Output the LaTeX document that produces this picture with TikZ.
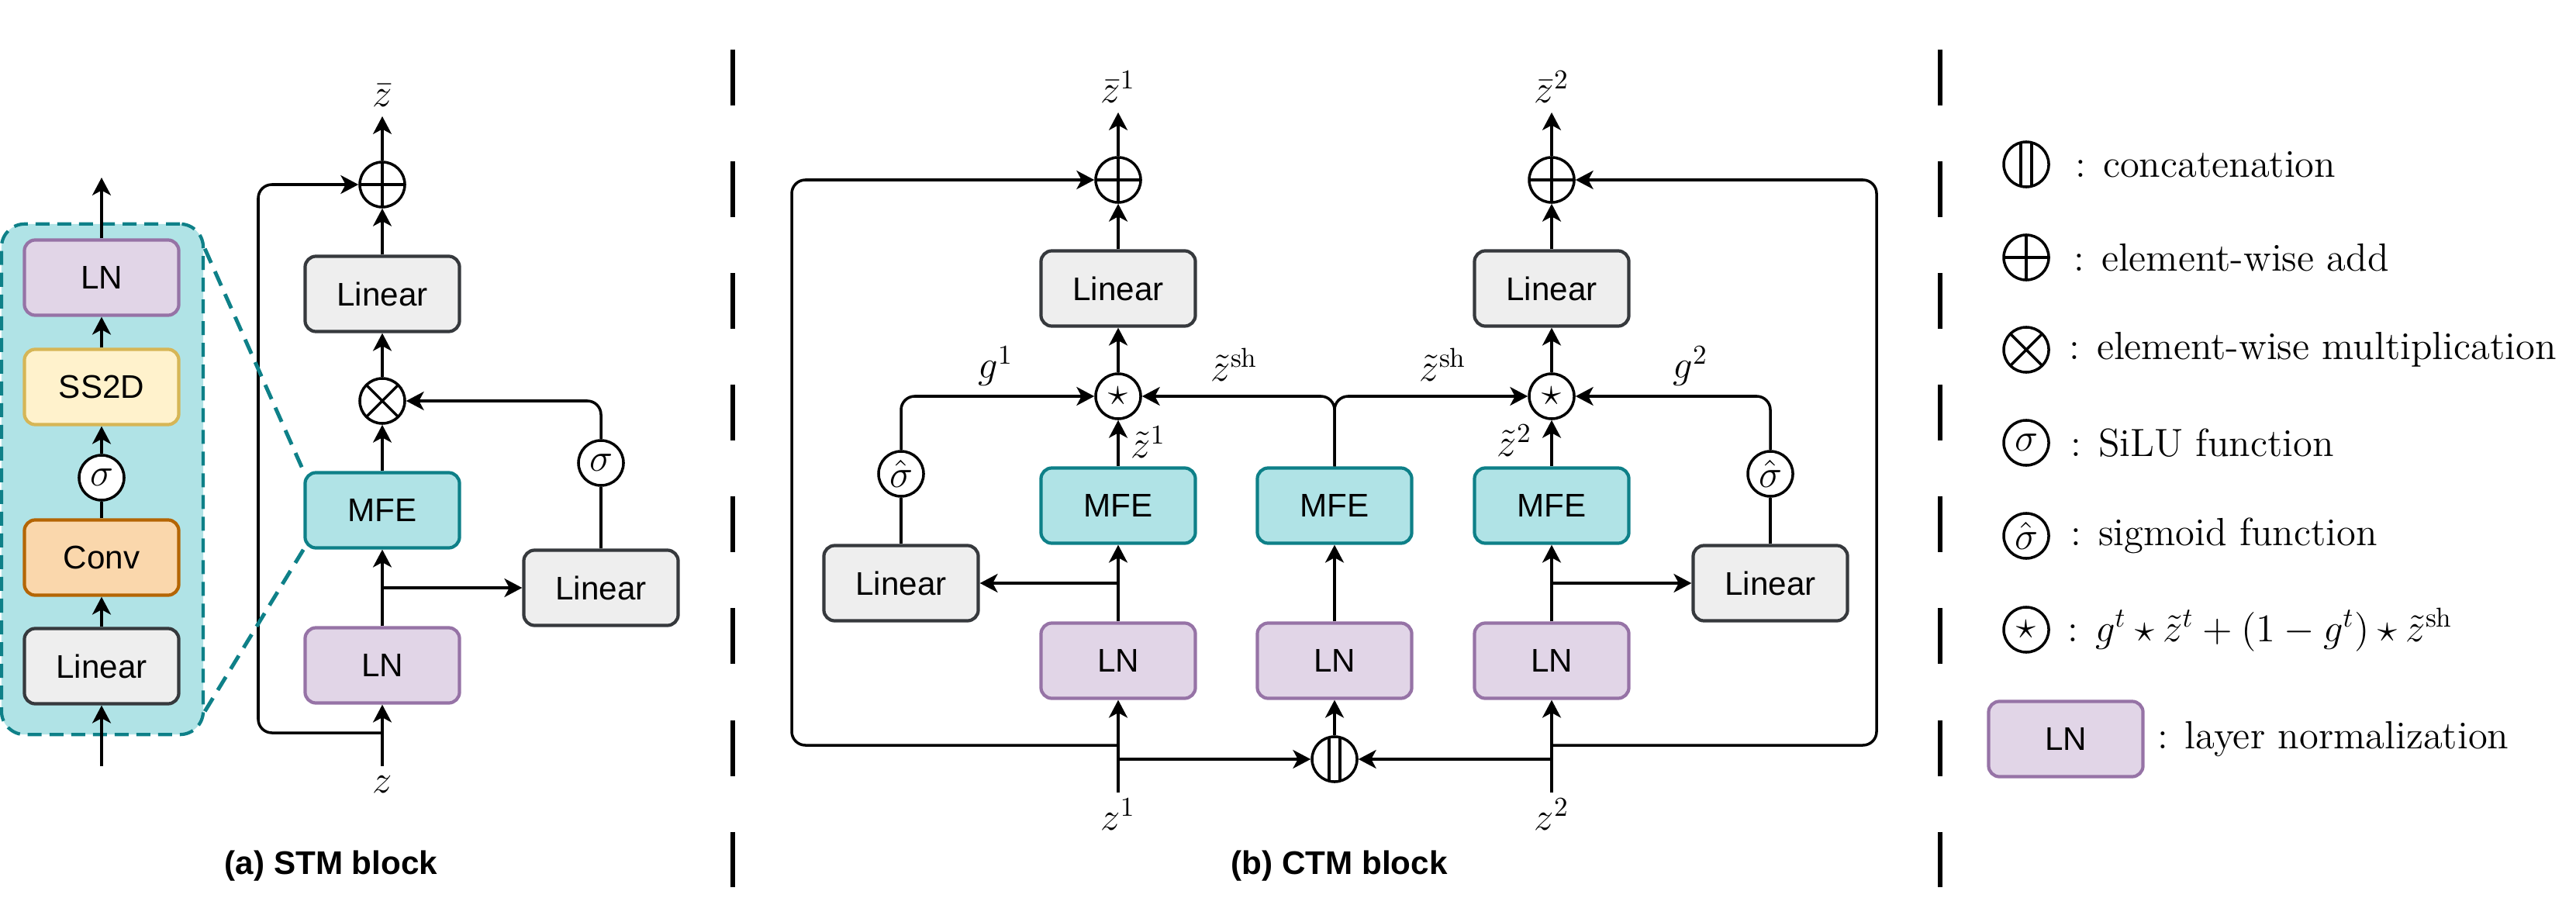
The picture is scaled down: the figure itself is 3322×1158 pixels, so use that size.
\documentclass[tikz,border=0pt]{standalone}
\usepackage{fontspec}
\usepackage{amsmath}
\usetikzlibrary{positioning}
\usetikzlibrary{arrows.meta}

\newfontfamily\blockfont{Liberation Sans}

\definecolor{linfill}{HTML}{EEEEEE}
\definecolor{lindraw}{HTML}{36393D}
\definecolor{mfefill}{HTML}{B0E3E6}
\definecolor{mfedraw}{HTML}{0E8088}
\definecolor{lnfill}{HTML}{E1D5E7}
\definecolor{lndraw}{HTML}{9673A6}
\definecolor{ssfill}{HTML}{FFF2CC}
\definecolor{ssdraw}{HTML}{D6B656}
\definecolor{convfill}{HTML}{FAD7AC}
\definecolor{convdraw}{HTML}{B46504}

\begin{document}
\begin{tikzpicture}[
    x=0.01cm, y=-0.01cm,
    blk/.style={rectangle, rounded corners=4pt, line width=1.2pt,
        minimum width=1.99cm, minimum height=0.97cm, inner sep=0pt,
        font=\blockfont\fontsize{12}{14}\selectfont},
    linbox/.style={blk, draw=lindraw, fill=linfill},
    mfebox/.style={blk, draw=mfedraw, fill=mfefill},
    lnbox/.style={blk, draw=lndraw, fill=lnfill},
    ssbox/.style={blk, draw=ssdraw, fill=ssfill},
    convbox/.style={blk, draw=convdraw, fill=convfill},
    opnode/.style={circle, draw, fill=white, line width=1pt,
        minimum size=0.58cm, inner sep=0pt,
        font=\fontsize{14.4}{17}\selectfont},
    oplus/.style={opnode, path picture={
        \draw[line width=1pt]
            (path picture bounding box.north) -- (path picture bounding box.south)
            (path picture bounding box.west) -- (path picture bounding box.east);}},
    otimes/.style={opnode, path picture={
        \draw[line width=1pt]
            (path picture bounding box.north west) -- (path picture bounding box.south east)
            (path picture bounding box.north east) -- (path picture bounding box.south west);}},
    ocat/.style={opnode, path picture={
        \draw[line width=1pt]
            ([xshift=-0.07cm]path picture bounding box.north) -- ([xshift=-0.07cm]path picture bounding box.south)
            ([xshift=0.07cm]path picture bounding box.north) -- ([xshift=0.07cm]path picture bounding box.south);}},
    flow/.style={line width=1pt, -{Stealth[length=6.5pt, width=6.8pt, inset=1.8pt]}},
    wire/.style={line width=1pt},
    mathlbl/.style={font=\fontsize{14.4}{17}\selectfont},
    legtext/.style={font=\fontsize{14.4}{17}\selectfont},
    caption/.style={font=\blockfont\bfseries\fontsize{12}{14}\selectfont},
    sepline/.style={line width=1.6pt, dash pattern=on 0.72cm off 0.72cm},
    zoombox/.style={rectangle, draw=mfedraw, fill=mfefill, line width=1.2pt,
        dash pattern=on 0.18cm off 0.1cm, rounded corners=0.3cm,
        minimum width=2.6cm, minimum height=6.58cm},
    zoomlink/.style={draw=mfedraw, line width=1.4pt, dash pattern=on 0.2cm off 0.12cm}
]

    \useasboundingbox (0,0) rectangle (3322,1158);

    % Separators
    \draw[sepline] (945,64) -- (945,1144);
    \draw[sepline] (2502,64) -- (2502,1144);

    % STM inner view
    \node[zoombox] (zoom) at (132,618) {};
    \node[linbox] (sLin) at (131,859) {Linear};
    \node[convbox] (sConv) at (131,719) {Conv};
    \node[opnode] (sSilu) at (131,616) {$\sigma$};
    \node[ssbox] (sSS) at (131,499) {SS2D};
    \node[lnbox] (sLN) at (131,358) {LN};
    \coordinate (sIn) at (131,988);
    \coordinate (sOut) at (131,229);

    \draw[flow] (sIn) -- (sLin);
    \draw[flow] (sLin) -- (sConv);
    \draw[wire] (sConv) -- (sSilu);
    \draw[flow] (sSilu) -- (sSS);
    \draw[flow] (sSS) -- (sLN);
    \draw[flow] (sLN) -- (sOut);

    % STM block
    \node[oplus] (sum) at (493,238) {};
    \node[linbox] (lin) at (493,379) {Linear};
    \node[otimes] (mul) at (493,517) {};
    \node[mfebox] (mfe) at (493,658) {MFE};
    \node[lnbox] (ln) at (493,858) {LN};
    \node[linbox] (gLin) at (775,758) {Linear};
    \node[opnode] (silu) at (775,597) {$\sigma$};
    \coordinate (zin) at (493,988);
    \coordinate (skip) at (493,945);
    \coordinate (zout) at (493,150);

    \draw[flow] (zin) -- (ln);
    \draw[flow] (ln) -- (mfe);
    \draw[flow] (mfe) -- (mul);
    \draw[flow] (mul) -- (lin);
    \draw[flow] (lin) -- (sum);
    \draw[flow] (sum) -- (zout);
    \draw[flow] (ln.north |- gLin) -- (gLin);
    \draw[wire] (gLin) -- (silu);
    \draw[flow, rounded corners=5pt] (silu) |- (mul);
    \draw[flow, rounded corners=5pt] (skip) -- ++(-160,0) |- (sum);

    \node[mathlbl, above] (zbar) at (zout) {$\bar{z}$};
    \node[mathlbl, below] (zlbl) at (zin) {$z$};

    % zoom links
    \draw[zoomlink] ([yshift=-0.34cm]zoom.north east) -- (mfe.north west);
    \draw[zoomlink] ([yshift=0.32cm]zoom.south east) -- (mfe.south west);

    % CTM block, first branch
    \node[oplus] (sumA) at (1442,232) {};
    \node[linbox] (linA) at (1442,372) {Linear};
    \node[opnode] (starA) at (1442,511) {$\star$};
    \node[mfebox] (mfeA) at (1442,652) {MFE};
    \node[lnbox] (lnA) at (1442,852) {LN};
    \node[linbox] (gLinA) at (1162,752) {Linear};
    \node[opnode] (sigA) at (1162,611) {$\hat{\sigma}$};
    \coordinate (zinA) at (1442,1022);
    \coordinate (skipA) at (1442,961);
    \coordinate (catA) at (1442,979);
    \coordinate (outA) at (1442,145);

    % CTM block, second branch
    \node[oplus] (sumB) at (2001,232) {};
    \node[linbox] (linB) at (2001,372) {Linear};
    \node[opnode] (starB) at (2001,511) {$\star$};
    \node[mfebox] (mfeB) at (2001,652) {MFE};
    \node[lnbox] (lnB) at (2001,852) {LN};
    \node[linbox] (gLinB) at (2283,752) {Linear};
    \node[opnode] (sigB) at (2283,611) {$\hat{\sigma}$};
    \coordinate (zinB) at (2001,1022);
    \coordinate (skipB) at (2001,961);
    \coordinate (catB) at (2001,979);
    \coordinate (outB) at (2001,145);

    % CTM block, shared branch
    \node[ocat] (cat) at (1721,979) {};
    \node[lnbox] (lnM) at (1721,852) {LN};
    \node[mfebox] (mfeM) at (1721,652) {MFE};

    \draw[flow] (zinA) -- (lnA);
    \draw[flow] (lnA) -- (mfeA);
    \draw[flow] (mfeA) -- (starA);
    \draw[flow] (starA) -- (linA);
    \draw[flow] (linA) -- (sumA);
    \draw[flow] (sumA) -- (outA);
    \draw[flow] (lnA.north |- gLinA) -- (gLinA);
    \draw[wire] (gLinA) -- (sigA);
    \draw[flow, rounded corners=5pt] (sigA) |- (starA);
    \draw[flow, rounded corners=5pt] (skipA) -- ++(-421,0) |- (sumA);

    \draw[flow] (zinB) -- (lnB);
    \draw[flow] (lnB) -- (mfeB);
    \draw[flow] (mfeB) -- (starB);
    \draw[flow] (starB) -- (linB);
    \draw[flow] (linB) -- (sumB);
    \draw[flow] (sumB) -- (outB);
    \draw[flow] (lnB.north |- gLinB) -- (gLinB);
    \draw[wire] (gLinB) -- (sigB);
    \draw[flow, rounded corners=5pt] (sigB) |- (starB);
    \draw[flow, rounded corners=5pt] (skipB) -- ++(419,0) |- (sumB);

    \draw[flow] (catA) -- (cat);
    \draw[flow] (catB) -- (cat);
    \draw[flow] (cat) -- (lnM);
    \draw[flow] (lnM) -- (mfeM);
    \draw[flow, rounded corners=5pt] (mfeM) |- (starA);
    \draw[flow, rounded corners=5pt] (mfeM) |- (starB);

    \node[mathlbl, above] (zbarA) at (outA) {$\bar{z}^1$};
    \node[mathlbl, above] (zbarB) at (outB) {$\bar{z}^2$};
    \node[mathlbl, below, inner sep=2pt] (zA) at (zinA) {$z^1$};
    \node[mathlbl, below, inner sep=2pt] (zB) at (zinB) {$z^2$};
    \node[mathlbl] (gA) at (1284,472) {$g^1$};
    \node[mathlbl] (gB) at (2180,472) {$g^2$};
    \node[mathlbl] (shA) at (1592,470) {$\tilde{z}^{\mathrm{sh}}$};
    \node[mathlbl] (shB) at (1861,470) {$\tilde{z}^{\mathrm{sh}}$};
    \node[mathlbl] (ztA) at (1481,570) {$\tilde{z}^1$};
    \node[mathlbl] (ztB) at (1953,568) {$\tilde{z}^2$};

    % Legend
    \node[ocat] (lgCat) at (2613,212) {};
    \node[oplus] (lgAdd) at (2613,332) {};
    \node[otimes] (lgMul) at (2613,451) {};
    \node[opnode] (lgSilu) at (2613,571) {$\sigma$};
    \node[opnode] (lgSig) at (2613,691) {$\hat{\sigma}$};
    \node[opnode] (lgStar) at (2613,812) {$\star$};
    \node[lnbox] (lgLN) at (2664,953) {LN};

    \node[legtext, right=0.2cm of lgCat] (tCat) {: concatenation};
    \node[legtext, right=0.18cm of lgAdd] (tAdd) {: element-wise add};
    \node[legtext, right=0.12cm of lgMul] (tMul) {: element-wise multiplication};
    \node[legtext, right=0.14cm of lgSilu] (tSilu) {: SiLU function};
    \node[legtext, right=0.14cm of lgSig] (tSig) {: sigmoid function};
    \node[legtext, right=0.1cm of lgStar] (tStar)
        {: $g^t \star \tilde{z}^t + (1 - g^t) \star \tilde{z}^{\mathrm{sh}}$};
    \node[legtext, right=0.04cm of lgLN] (tLN) {: layer normalization};

    % Captions
    \node[caption] (capA) at (427,1117) {(a) STM block};
    \node[caption] (capB) at (1727,1117) {(b) CTM block};

\end{tikzpicture}
\end{document}
